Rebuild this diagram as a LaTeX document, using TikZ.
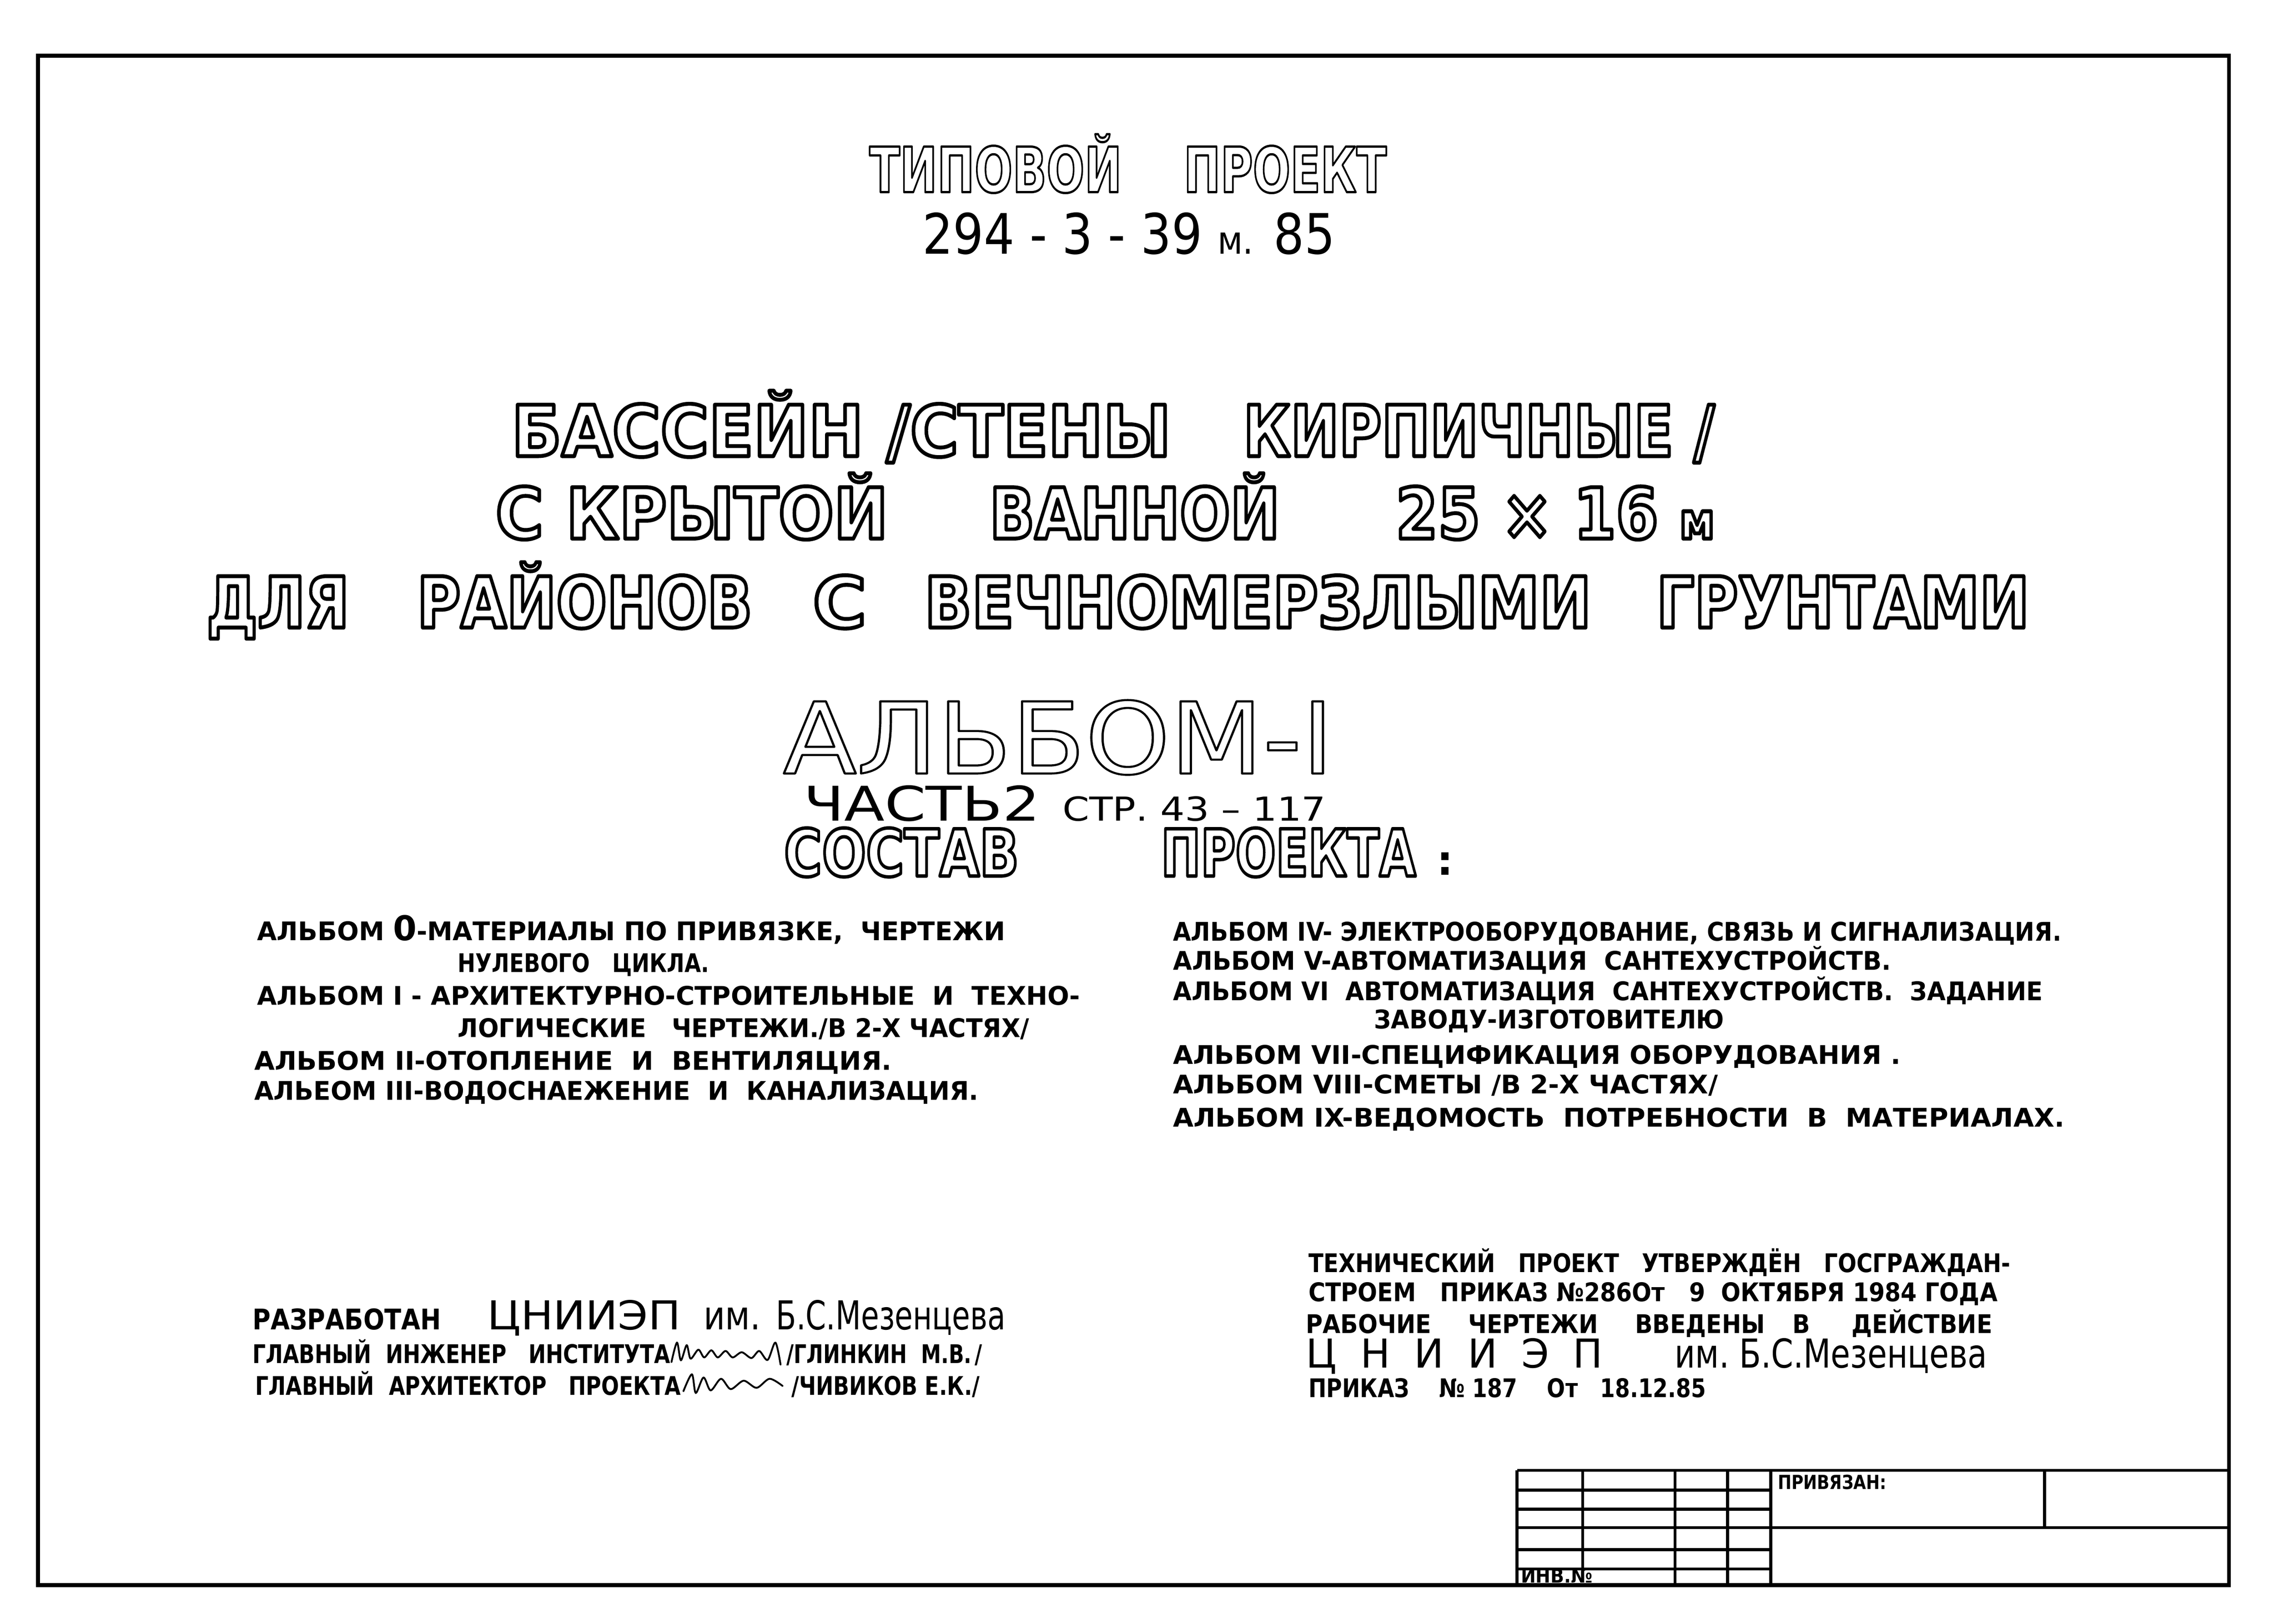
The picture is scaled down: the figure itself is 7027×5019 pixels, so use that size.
\documentclass[tikz,border=0pt]{standalone}
\usepackage{fontspec}
\setmainfont{DejaVu Sans}
\usepackage{graphicx}

\newlength\pxu \setlength\pxu{0.01cm}
% text squeezed or stretched to a width given in pixels
\newcommand{\fitw}[2]{\resizebox{#1\pxu}{\height}{#2}}
% hollow letters: glyph outlines stroked, not filled (width in bp)
\newcommand{\hollow}[2][3]{\special{pdf:literal direct #1 w 1 j 1 Tr}#2\special{pdf:literal direct 0 Tr}}

\tikzset{
  border/.style={line width=3.4pt},
  stamp/.style={line width=2.6pt},
  sig/.style={line width=1.6pt, line cap=round, line join=round},
  txt/.style={inner sep=0pt, anchor=base west},
  tiptext/.style={txt, font=\fontsize{55}{60}\selectfont\bfseries},
  numtext/.style={txt, font=\fontsize{49}{54}\selectfont},
  titletext/.style={txt, font=\fontsize{62}{66}\selectfont\bfseries},
  albumtext/.style={txt, font=\fontsize{87}{90}\selectfont},
  parttext/.style={txt, font=\fontsize{42}{46}\selectfont},
  sostavtext/.style={txt, font=\fontsize{57}{60}\selectfont\bfseries},
  listtext/.style={txt, font=\fontsize{22.6}{26}\selectfont\bfseries},
  orgtext/.style={txt, font=\fontsize{35}{38}\selectfont},
  stamptext/.style={txt, font=\fontsize{17}{19}\selectfont\bfseries}
}

\begin{document}
\begin{tikzpicture}[x=0.01cm,y=-0.01cm]
\useasboundingbox (0,0) rectangle (7027,5019);
% sheet frame
\draw[border] (117,172) rectangle (6888,4900);

% title
\node[tiptext] (tipa) at (2686,594) {\fitw{780}{\hollow[2]{ТИПОВОЙ}}};
\node[tiptext] (tipb) at (3657,594) {\fitw{627}{\hollow[2]{ПРОЕКТ}}};
\node[numtext] (nomer) at (2850,785) {\fitw{1275}{294 - 3 - 39 {\fontsize{34}{36}\selectfont м.} 85}};

\node[titletext] (bassa) at (1580,1410) {\fitw{2038}{\hollow[3.4]{БАССЕЙН /СТЕНЫ}}};
\node[titletext] (bassb) at (3841,1410) {\fitw{1457}{\hollow[3.4]{КИРПИЧНЫЕ /}}};
\node[titletext] (kryta) at (1531,1665) {\fitw{1213}{\hollow[3.4]{С КРЫТОЙ}}};
\node[titletext] (krytb) at (3057,1665) {\fitw{897}{\hollow[3.4]{ВАННОЙ}}};
\node[titletext] (krytc) at (4312,1665) {\fitw{986}{\hollow[3.4]{25 × 16 {\fontsize{44}{48}\selectfont м}}}};
\node[titletext] (dlyaa) at (638,1940) {\fitw{440}{\hollow[3.4]{ДЛЯ}}};
\node[titletext] (dlyab) at (1288,1940) {\fitw{1036}{\hollow[3.4]{РАЙОНОВ}}};
\node[titletext] (dlyac) at (2511,1940) {\fitw{166}{\hollow[3.4]{С}}};
\node[titletext] (dlyad) at (2856,1940) {\fitw{2061}{\hollow[3.4]{ВЕЧНОМЕРЗЛЫМИ}}};
\node[titletext] (dlyae) at (5118,1940) {\fitw{1152}{\hollow[3.4]{ГРУНТАМИ}}};

\node[albumtext] (albom) at (2419,2391) {\fitw{1701}{\hollow[1.8]{АЛЬБОМ-I}}};
\node[parttext] (chasta) at (2483,2538) {\fitw{730}{ЧАСТЬ2}};
\node[parttext] (chastb) at (3283,2538) {\fitw{814}{\fontsize{29}{32}\selectfont СТР. 43 – 117}};
\node[sostavtext] (sostava) at (2422,2708) {\fitw{726}{\hollow[3]{СОСТАВ}}};
\node[sostavtext] (sostavb) at (3587,2708) {\fitw{788}{\hollow[3]{ПРОЕКТА}}};
\node[txt, font=\fontsize{36}{40}\selectfont\bfseries] (colon) at (4440,2705) {:};

% list of albums, left column
\node[listtext] (lista) at (794,2907) {\fitw{2312}{АЛЬБОМ {\fontsize{30}{30}\selectfont 0}-МАТЕРИАЛЫ ПО ПРИВЯЗКЕ,\ \ ЧЕРТЕЖИ}};
\node[listtext] (listb) at (1414,3005) {\fitw{777}{НУЛЕВОГО\ \ \ ЦИКЛА.}};
\node[listtext] (listc) at (794,3106) {\fitw{2543}{АЛЬБОМ I - АРХИТЕКТУРНО-СТРОИТЕЛЬНЫЕ\ \ И\ \ ТЕХНО-}};
\node[listtext] (listd) at (1414,3207) {\fitw{1766}{ЛОГИЧЕСКИЕ\ \ \ ЧЕРТЕЖИ./В 2-Х ЧАСТЯХ/}};
\node[listtext] (liste) at (785,3307) {\fitw{1970}{АЛЬБОМ II-ОТОПЛЕНИЕ\ \ И\ \ ВЕНТИЛЯЦИЯ.}};
\node[listtext] (listf) at (785,3401) {\fitw{2238}{АЛЬЕОМ III-ВОДОСНАЕЖЕНИЕ\ \ И\ \ КАНАЛИЗАЦИЯ.}};

% list of albums, right column
\node[listtext] (listg) at (3624,2908) {\fitw{2746}{АЛЬБОМ IV- ЭЛЕКТРООБОРУДОВАНИЕ, СВЯЗЬ И СИГНАЛИЗАЦИЯ.}};
\node[listtext] (listh) at (3624,2998) {\fitw{2219}{АЛЬБОМ V-АВТОМАТИЗАЦИЯ\ \ САНТЕХУСТРОЙСТВ.}};
\node[listtext] (listi) at (3624,3093) {\fitw{2688}{АЛЬБОМ VI\ \ АВТОМАТИЗАЦИЯ\ \ САНТЕХУСТРОЙСТВ.\ \ ЗАДАНИЕ}};
\node[listtext] (listj) at (4246,3180) {\fitw{1081}{ЗАВОДУ-ИЗГОТОВИТЕЛЮ}};
\node[listtext] (listk) at (3624,3290) {\fitw{2248}{АЛЬБОМ VII-СПЕЦИФИКАЦИЯ ОБОРУДОВАНИЯ .}};
\node[listtext] (listl) at (3624,3381) {\fitw{1684}{АЛЬБОМ VIII-СМЕТЫ /В 2-Х ЧАСТЯХ/}};
\node[listtext] (listm) at (3624,3483) {\fitw{2755}{АЛЬБОМ IX-ВЕДОМОСТЬ\ \ ПОТРЕБНОСТИ\ \ В\ \ МАТЕРИАЛАХ.}};

% developed by
\node[listtext] (razr) at (780,4110) {\fitw{582}{\fontsize{25}{28}\selectfont РАЗРАБОТАН}};
\node[orgtext] (cniiepa) at (1505,4110) {\fitw{598}{ЦНИИЭП}};
\node[orgtext] (ima) at (2174,4110) {\fitw{176}{им.}};
\node[orgtext] (meza) at (2398,4110) {\fitw{709}{Б.С.Мезенцева}};
\node[listtext] (glava) at (780,4214) {\fitw{1291}{ГЛАВНЫЙ\ \ ИНЖЕНЕР\ \ \ ИНСТИТУТА}};
\node[listtext] (glinkin) at (2430,4214) {\fitw{605}{/ГЛИНКИН\ \ М.В.\,/}};
\node[listtext] (glavb) at (788,4312) {\fitw{1315}{ГЛАВНЫЙ\ \ АРХИТЕКТОР\ \ \ ПРОЕКТА}};
\node[listtext] (chivikov) at (2445,4312) {\fitw{582}{/ЧИВИКОВ Е.К./}};
% signatures
\draw[sig] plot[smooth] coordinates {(2075,4210) (2092,4150) (2104,4205) (2122,4158) (2134,4200)
  (2158,4172) (2176,4196) (2198,4174) (2218,4196) (2242,4176) (2264,4196) (2292,4180)
  (2322,4198) (2346,4176) (2372,4204) (2396,4150) (2412,4218)};
\draw[sig] plot[smooth] coordinates {(2112,4300) (2138,4248) (2150,4306) (2174,4258) (2196,4298)
  (2228,4262) (2258,4294) (2298,4268) (2338,4290) (2378,4262) (2418,4284)};

% approval
\node[listtext] (teha) at (4043,3933) {\fitw{2169}{ТЕХНИЧЕСКИЙ\ \ \ ПРОЕКТ\ \ \ УТВЕРЖДЁН\ \ \ ГОСГРАЖДАН-}};
\node[listtext] (tehb) at (4043,4023) {\fitw{2129}{СТРОЕМ\ \ \ ПРИКАЗ №286От\ \ \ 9\ \ ОКТЯБРЯ 1984 ГОДА}};
\node[listtext] (tehc) at (4035,4122) {\fitw{2121}{РАБОЧИЕ\hspace{1.6em}ЧЕРТЕЖИ\hspace{1.6em}ВВЕДЕНЫ\hspace{1.2em}В\hspace{1.8em}ДЕЙСТВИЕ}};
\node[orgtext] (cniiepb) at (4035,4228) {\fitw{917}{Ц\hspace{0.6em}Н\hspace{0.6em}И\hspace{0.6em}И\hspace{0.6em}Э\hspace{0.6em}П}};
\node[orgtext] (imb) at (5175,4228) {\fitw{168}{им.}};
\node[orgtext] (mezb) at (5374,4228) {\fitw{766}{Б.С.Мезенцева}};
\node[listtext] (prikaz) at (4043,4319) {\fitw{1228}{ПРИКАЗ\ \ \ \ № 187\ \ \ \ От\ \ \ 18.12.85}};

% stamp
\draw[stamp] (4688,4545) -- (6888,4545);
\draw[stamp] (4688,4606) -- (5472,4606);
\draw[stamp] (4688,4665) -- (5472,4665);
\draw[stamp] (4688,4722) -- (6888,4722);
\draw[stamp] (4688,4790) -- (5472,4790);
\draw[stamp] (4688,4850) -- (5472,4850);
\draw[stamp] (4688,4545) -- (4688,4900);
\draw[stamp] (4891,4545) -- (4891,4850);
\draw[stamp] (5176,4545) -- (5176,4900);
\draw[stamp] (5338,4545) -- (5338,4900);
\draw[stamp] (5472,4545) -- (5472,4900);
\draw[stamp] (6318,4545) -- (6318,4722);
\node[stamptext] (privyazan) at (5493,4603) {\fitw{336}{ПРИВЯЗАН:}};
\node[stamptext] (inv) at (4699,4893) {\fitw{222}{ИНВ.№}};
\end{tikzpicture}
\end{document}
